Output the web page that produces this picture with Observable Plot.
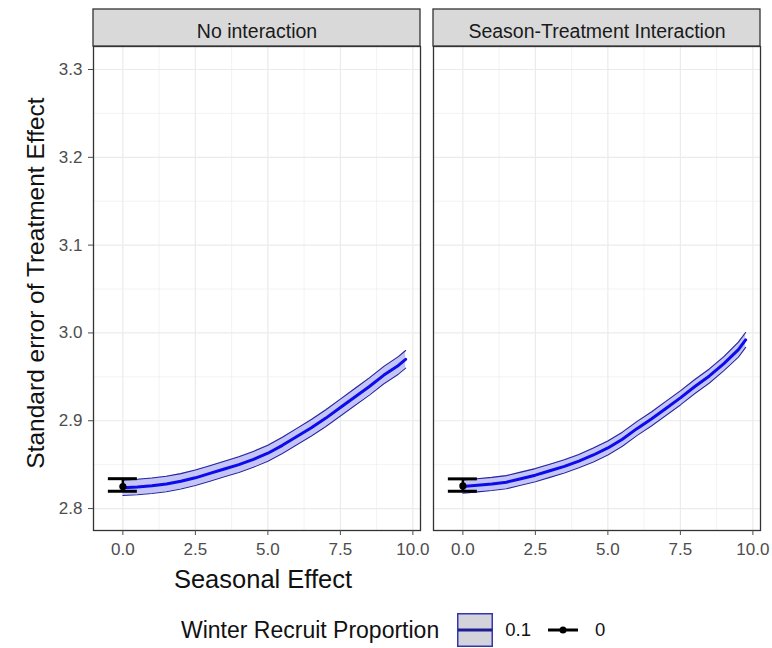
<!DOCTYPE html>
<html>
<head>
<meta charset="utf-8">
<script src="https://cdn.jsdelivr.net/npm/d3@7"></script>
<script src="https://cdn.jsdelivr.net/npm/@observablehq/plot@0.6"></script>
<style>
  html, body { margin: 0; padding: 0; background: #ffffff; }
  #wrap { position: relative; width: 772px; height: 648px; font-family: "Liberation Sans", Arial, sans-serif; background: #fff; overflow: hidden; }
  #chart { position: absolute; left: 0; top: 0; }
  #ytitle { position: absolute; left: 36px; top: 283px; transform: translate(-50%, -50%) rotate(-90deg); white-space: nowrap; font-size: 24.5px; color: #111; }
  #xtitle { position: absolute; left: 263px; top: 579px; transform: translate(-50%, -50%); white-space: nowrap; font-size: 25.5px; color: #111; }
  #legend { position: absolute; left: 181px; top: 613px; height: 34px; display: flex; align-items: center; white-space: nowrap; font-size: 23px; color: #111; }
  #legend .lab { font-size: 18.5px; color: #111; }
</style>
</head>
<body>
<div id="wrap">
  <div id="chart"></div>
  <div id="ytitle">Standard error of Treatment Effect</div>
  <div id="xtitle">Seasonal Effect</div>
  <div id="legend">
    <span>Winter Recruit Proportion</span>
    <svg width="36" height="34" style="margin-left:18px">
      <rect x="0.75" y="0.75" width="34.5" height="32.5" fill="#D3D3DC" stroke="#3535B0" stroke-width="1.5"></rect>
      <line x1="1" x2="35" y1="17" y2="17" stroke="#1E1E90" stroke-width="3"></line>
    </svg>
    <span class="lab" style="margin-left:12px">0.1</span>
    <svg width="32" height="34" style="margin-left:16px">
      <line x1="1" x2="31" y1="17" y2="17" stroke="#000" stroke-width="3"></line>
      <circle cx="16" cy="17" r="3.5" fill="#000"></circle>
    </svg>
    <span class="lab" style="margin-left:16px">0</span>
  </div>
</div>
<script>
// ---- data ----
const panels = ["No interaction", "Season-Treatment Interaction"];
const seasonal = [0, 0.5, 1, 1.5, 2, 2.5, 3, 3.5, 4, 4.5, 5, 5.5, 6, 6.5, 7, 7.5, 8, 8.5, 9, 9.5, 9.75];

const midNoInt = [2.8236, 2.8245, 2.826, 2.828, 2.831, 2.835, 2.840, 2.845, 2.850, 2.856, 2.863, 2.872, 2.882, 2.892, 2.903, 2.915, 2.927, 2.939, 2.952, 2.963, 2.970];
const loNoInt  = [2.8148, 2.8157, 2.8172, 2.8192, 2.8222, 2.8262, 2.8312, 2.8362, 2.8411, 2.8470, 2.8539, 2.8628, 2.8727, 2.8826, 2.8935, 2.9054, 2.9173, 2.9292, 2.9421, 2.9530, 2.9600];
const hiNoInt  = [2.8324, 2.8333, 2.8348, 2.8368, 2.8398, 2.8438, 2.8488, 2.8538, 2.8589, 2.8650, 2.8721, 2.8812, 2.8913, 2.9014, 2.9125, 2.9246, 2.9367, 2.9488, 2.9619, 2.9730, 2.9800];

const midInt = [2.825, 2.8265, 2.828, 2.830, 2.834, 2.838, 2.843, 2.848, 2.854, 2.861, 2.869, 2.879, 2.891, 2.902, 2.914, 2.926, 2.939, 2.951, 2.965, 2.981, 2.992];
const loInt  = [2.8175, 2.819, 2.8205, 2.8225, 2.8265, 2.8305, 2.8355, 2.8405, 2.8465, 2.853, 2.861, 2.871, 2.883, 2.894, 2.906, 2.918, 2.931, 2.943, 2.957, 2.9725, 2.9835];
const hiInt  = [2.8325, 2.834, 2.8355, 2.8375, 2.8415, 2.8455, 2.8505, 2.8555, 2.8615, 2.869, 2.877, 2.887, 2.899, 2.910, 2.922, 2.934, 2.947, 2.959, 2.973, 2.9895, 3.0005];

// Winter recruit proportion 0: point with error bar at seasonal effect 0
const ebX    = [0, 0];
const ebMid  = [2.825, 2.8258];
const ebLow  = [2.8197, 2.8197];
const ebHigh = [2.834, 2.8338];
const ebWidth = 1;

const xTicks = [0, 2.5, 5, 7.5, 10];
const xMinor = [1.25, 3.75, 6.25, 8.75];
const yTicks = [2.8, 2.9, 3.0, 3.1, 3.2, 3.3];
const yMinor = [2.85, 2.95, 3.05, 3.15, 3.25];

// ---- tables ----
const series = [
  {panel: panels[0], mid: midNoInt, lo: loNoInt, hi: hiNoInt},
  {panel: panels[1], mid: midInt, lo: loInt, hi: hiInt}
];
const rows = series.flatMap(s => seasonal.map((x, i) => ({panel: s.panel, x, mid: s.mid[i], lo: s.lo[i], hi: s.hi[i]})));
const eb = panels.map((p, i) => ({panel: p, x: ebX[i], mid: ebMid[i], lo: ebLow[i], hi: ebHigh[i],
  xl: ebX[i] - ebWidth / 2, xr: ebX[i] + ebWidth / 2}));
const strips = panels.map(p => ({panel: p}));

const W = 772, H = 600, mT = 46, mB = 70, mL = 93, mR = 12;
const panelH = H - mT - mB;
const stripH = 37;

const chart = Plot.plot({
  width: W, height: H,
  marginTop: mT, marginBottom: mB, marginLeft: mL, marginRight: mR,
  style: {fontFamily: "'Liberation Sans', Arial, sans-serif", background: "#ffffff", overflow: "visible"},
  fx: {domain: panels, paddingInner: 13 / 340, paddingOuter: 0, round: false, axis: null, label: null},
  x: {domain: [-1.0125, 10.2625], label: null},
  y: {domain: [2.775, 3.3262], label: null},
  marks: [
    Plot.gridX(xMinor, {stroke: "#EBEBEB", strokeOpacity: 1, strokeWidth: 0.6}),
    Plot.gridY(yMinor, {stroke: "#EBEBEB", strokeOpacity: 1, strokeWidth: 0.6}),
    Plot.gridX(xTicks, {stroke: "#EBEBEB", strokeOpacity: 1, strokeWidth: 1.2}),
    Plot.gridY(yTicks, {stroke: "#EBEBEB", strokeOpacity: 1, strokeWidth: 1.2}),
    Plot.areaY(rows, {fx: "panel", x: "x", y1: "lo", y2: "hi", fill: "#C4C4F6", curve: "linear"}),
    Plot.lineY(rows, {fx: "panel", x: "x", y: "lo", stroke: "#2424A0", strokeWidth: 1.1}),
    Plot.lineY(rows, {fx: "panel", x: "x", y: "hi", stroke: "#2424A0", strokeWidth: 1.1}),
    Plot.lineY(rows, {fx: "panel", x: "x", y: "mid", stroke: "#0C0CEA", strokeWidth: 3}),
    Plot.ruleX(eb, {fx: "panel", x: "x", y1: "lo", y2: "hi", stroke: "#000", strokeWidth: 2.5}),
    Plot.ruleY(eb, {fx: "panel", y: "lo", x1: "xl", x2: "xr", stroke: "#000", strokeWidth: 3}),
    Plot.ruleY(eb, {fx: "panel", y: "hi", x1: "xl", x2: "xr", stroke: "#000", strokeWidth: 3}),
    Plot.dot(eb, {fx: "panel", x: "x", y: "mid", r: 3.6, fill: "#000", stroke: "none"}),
    Plot.frame({stroke: "#333333", strokeWidth: 1.3}),
    Plot.rect(strips, {fx: "panel", fill: "#D9D9D9", stroke: "#333333", strokeWidth: 1.3,
      insetTop: -stripH, insetBottom: panelH}),
    Plot.text(strips, {fx: "panel", text: "panel", frameAnchor: "top", dy: -stripH / 2 - 3.5,
      fontSize: 19.5, fill: "#1A1A1A"}),
    Plot.axisX({ticks: xTicks, tickFormat: d3.format(".1f"), tickSize: 5, tickPadding: 7,
      fontSize: 17, color: "#4D4D4D", label: null}),
    Plot.axisY({ticks: yTicks, tickFormat: d3.format(".1f"), tickSize: 5, tickPadding: 6,
      fontSize: 17, color: "#4D4D4D", label: null})
  ]
});
document.getElementById("chart").appendChild(chart);
</script>
</body>
</html>
